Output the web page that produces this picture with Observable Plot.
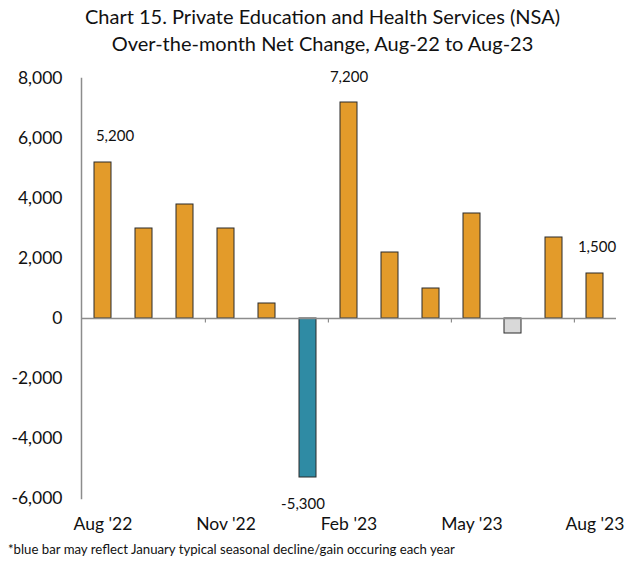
<!DOCTYPE html>
<html><head><meta charset="utf-8">
<script src="https://cdn.jsdelivr.net/npm/d3@7"></script>
<script src="https://cdn.jsdelivr.net/npm/@observablehq/plot@0.6"></script>
<style>
body{margin:0;background:#fff;font-family:Lato,"DejaVu Sans",sans-serif;color:#111;}
#title{height:60px;box-sizing:border-box;padding-top:3px;text-align:center;font-size:20px;line-height:27px;padding-left:10px;}
#chart{height:478px;}
#caption{font-size:13.2px;padding-left:8px;margin-top:3px;}
</style></head><body>
<div id="title">Chart 15. Private Education and Health Services (NSA)<br>Over-the-month Net Change, Aug-22 to Aug-23</div>
<div id="chart"></div>
<div id="caption">*blue bar may reflect January typical seasonal decline/gain occuring each year</div>
<script>
const months = ["Aug '22","Sep '22","Oct '22","Nov '22","Dec '22","Jan '23","Feb '23","Mar '23","Apr '23","May '23","Jun '23","Jul '23","Aug '23"];
const values = [5200,3000,3800,3000,500,-5300,7200,2200,1000,3500,-500,2700,1500];
const barKinds = ["gain","gain","gain","gain","gain","january","gain","gain","gain","gain","decline","gain","gain"];
const tickLabels = ["Aug '22","Nov '22","Feb '23","May '23","Aug '23"];
const boundaryTicks = ["Nov '22","Feb '23","May '23","Aug '23"];
const yTicks = [-6000,-4000,-2000,0,2000,4000,6000,8000];

const data = months.map((m,i)=>({month:m, value:values[i], kind:barKinds[i]}));
const colors = {gain:"#E39B2A", january:"#2F8BA4", decline:"#D9D9D9"};
const W = 635, ML = 81, MR = 19;
const step = (W - ML - MR) / months.length;
const comma = d3.format(",");
const fmt = d => (d < 0 ? "-" : "") + comma(Math.abs(d));
const lab = m => data.filter(d => d.month === m);
const font = "Lato, 'DejaVu Sans', sans-serif";

const chart = Plot.plot({
  width: W, height: 478,
  marginLeft: ML, marginRight: MR, marginTop: 18, marginBottom: 40,
  style: {fontFamily: font, background: "#fff", color: "#111"},
  x: {type: "band", domain: months, paddingInner: 0.59, paddingOuter: 0.295, label: null},
  y: {domain: [-6000, 8000], label: null},
  marks: [
    Plot.barY(data, {x: "month", y: "value", fill: d => colors[d.kind], stroke: "#2b2b2b", strokeWidth: 1}),
    Plot.ruleY([0], {stroke: "#8c8c8c", strokeWidth: 1.5}),
    Plot.frame({anchor: "left", stroke: "#8c8c8c", strokeWidth: 1.5}),
    Plot.ruleX(boundaryTicks, {x: d => d, y1: 0, y2: -150, dx: -step/2, stroke: "#8c8c8c", strokeWidth: 1.2}),
    Plot.axisY({ticks: yTicks, tickFormat: fmt, tickSize: 0, tickPadding: 19, fontSize: 17.5}),
    Plot.axisX({ticks: tickLabels, tickSize: 0, tickPadding: 19, fontSize: 17.5, label: null}),
    Plot.text(lab("Aug '22"), {x: "month", y: "value", text: d => fmt(d.value), dx: 12, dy: -26, fontSize: 15}),
    Plot.text(lab("Feb '23"), {x: "month", y: "value", text: d => fmt(d.value), dx: 0, dy: -25, fontSize: 15}),
    Plot.text(lab("Jan '23"), {x: "month", y: "value", text: d => fmt(d.value), dx: -5, dy: 27, fontSize: 15}),
    Plot.text(lab("Aug '23"), {x: "month", y: "value", text: d => fmt(d.value), dx: 2, dy: -26, fontSize: 15})
  ]
});
document.getElementById("chart").appendChild(chart);
</script>
</body></html>
